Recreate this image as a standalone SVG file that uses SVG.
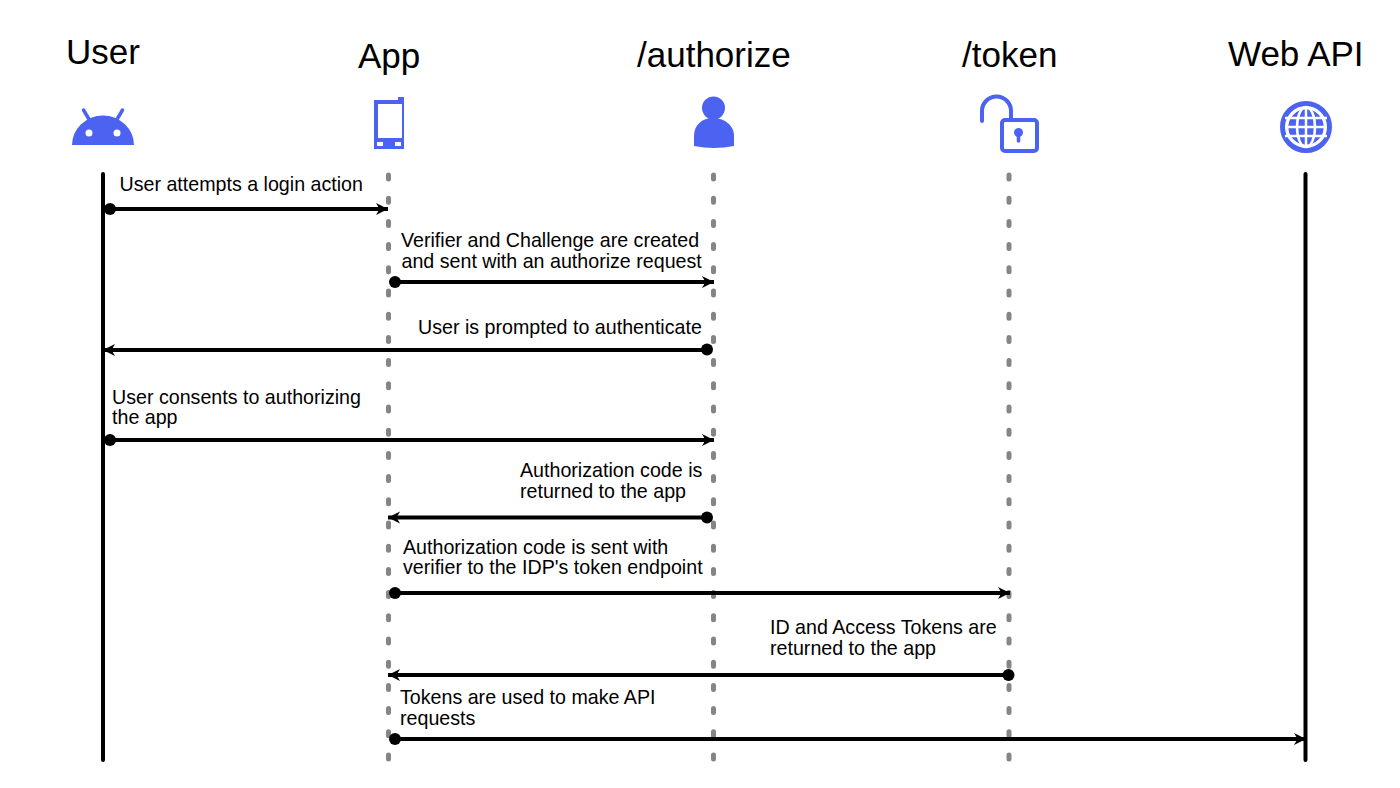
<svg xmlns="http://www.w3.org/2000/svg" width="1400" height="788" viewBox="0 0 1400 788">
<style>
text{font-family:"Liberation Sans",Arial,sans-serif;fill:#000}
.t{font-size:35px}
.l{font-size:19.65px}
.solid{stroke:#000;stroke-width:4;stroke-linecap:round;fill:none}
.dash{stroke:#858585;stroke-width:5;stroke-linecap:round;stroke-dasharray:4 19.2;fill:none}
.m{stroke:#000;stroke-width:4;fill:none;marker-end:url(#a)}
.d{fill:#000}
.i{fill:#4c62f0}
.o{fill:none;stroke:#4c62f0}
</style>
<defs>
<marker id="a" markerUnits="userSpaceOnUse" markerWidth="14" markerHeight="14" refX="12" refY="7" orient="auto"><path d="M0 1 L12 7 L0 13 L3.500 7Z" fill="#000"/></marker>
</defs>
<rect width="1400" height="788" fill="#fff"/>
<g id="user">
<text class="t" x="66" y="63.500">User</text>
<path class="i" d="M72 145A31 29.500 0 0 1 134 145Z"/>
<path class="o" stroke-width="3.500" stroke-linecap="round" d="M83.500 110L90 121M122.500 110L116 121"/>
<circle cx="89" cy="133" r="3.500" fill="#fff"/><circle cx="117" cy="133" r="3.500" fill="#fff"/>
</g>
<g id="app">
<text class="t" x="358" y="68">App</text>
<path class="i" fill-rule="evenodd" d="M374 100H398V97H404V149H374ZM378 104V138H402V104ZM377 142V146H383V142ZM395 142V146H401V142Z"/>
</g>
<g id="authorize">
<text class="t" x="637" y="67">/authorize</text>
<circle class="i" cx="713.500" cy="108" r="11.500"/>
<path class="i" d="M694 146V136C694 125 702 118 713 118S734 125 734 136V146Q714 150 694 146Z"/>
</g>
<g id="token">
<text class="t" x="962" y="67">/token</text>
<path class="o" stroke-width="4" stroke-linecap="round" d="M982 121V111A14.500 14.500 0 0 1 1011 111V120"/>
<rect class="o" stroke-width="4" x="1002" y="120" width="35" height="31" rx="3"/>
<circle class="i" cx="1018.500" cy="132.500" r="4.500"/>
<path class="o" stroke-width="3.500" stroke-linecap="round" d="M1018.500 134V141"/>
</g>
<g id="webapi">
<text class="t" x="1228" y="66">Web API</text>
<circle class="o" stroke-width="5" cx="1306" cy="127" r="23.500"/>
<circle class="i" cx="1306" cy="127" r="18"/>
<g fill="none" stroke="#fff" stroke-width="2.500">
<path d="M1285 118H1327M1285 127H1327M1285 136H1327M1306 106V148"/>
<ellipse cx="1306" cy="127" rx="9" ry="20"/>
<circle cx="1306" cy="127" r="19"/>
</g>
</g>
<g id="connectors">
<path class="solid" d="M103 174V760M1305.500 174V760"/>
<path class="dash" d="M388.500 175V760M713.500 175V760M1009 175V760"/>
<path class="m" d="M110 209H388"/>
<circle class="d" cx="110" cy="209" r="6"/>
<path class="m" d="M395 282H714"/>
<circle class="d" cx="395" cy="282" r="6"/>
<path class="m" d="M707 350H103"/>
<circle class="d" cx="707" cy="349.500" r="6"/>
<path class="m" d="M110 440H714"/>
<circle class="d" cx="110" cy="440" r="6"/>
<path class="m" d="M707 517.500H388"/>
<circle class="d" cx="707" cy="517.500" r="6"/>
<path class="m" d="M395 593H1010"/>
<circle class="d" cx="395" cy="593" r="6"/>
<path class="m" d="M1008 675H388"/>
<circle class="d" cx="1008.500" cy="675" r="6"/>
<path class="m" d="M395 739H1306"/>
<circle class="d" cx="395" cy="739" r="6"/>
</g>
<g id="labels">
<text class="l" x="119.500" y="190.500">User attempts a login action</text>
<text class="l" x="401" y="247">Verifier and Challenge are created</text>
<text class="l" x="401.500" y="267.500">and sent with an authorize request</text>
<text class="l" x="418" y="333.500">User is prompted to authenticate</text>
<text class="l" x="112" y="403.500">User consents to authorizing</text>
<text class="l" x="112" y="424">the app</text>
<text class="l" x="520" y="477">Authorization code is</text>
<text class="l" x="520" y="497.500">returned to the app</text>
<text class="l" x="403" y="553.500">Authorization code is sent with</text>
<text class="l" x="403" y="574">verifier to the IDP's token endpoint</text>
<text class="l" x="770" y="634">ID and Access Tokens are</text>
<text class="l" x="770" y="654.500">returned to the app</text>
<text class="l" x="400" y="704">Tokens are used to make API</text>
<text class="l" x="400" y="725">requests</text>
</g>
</svg>
